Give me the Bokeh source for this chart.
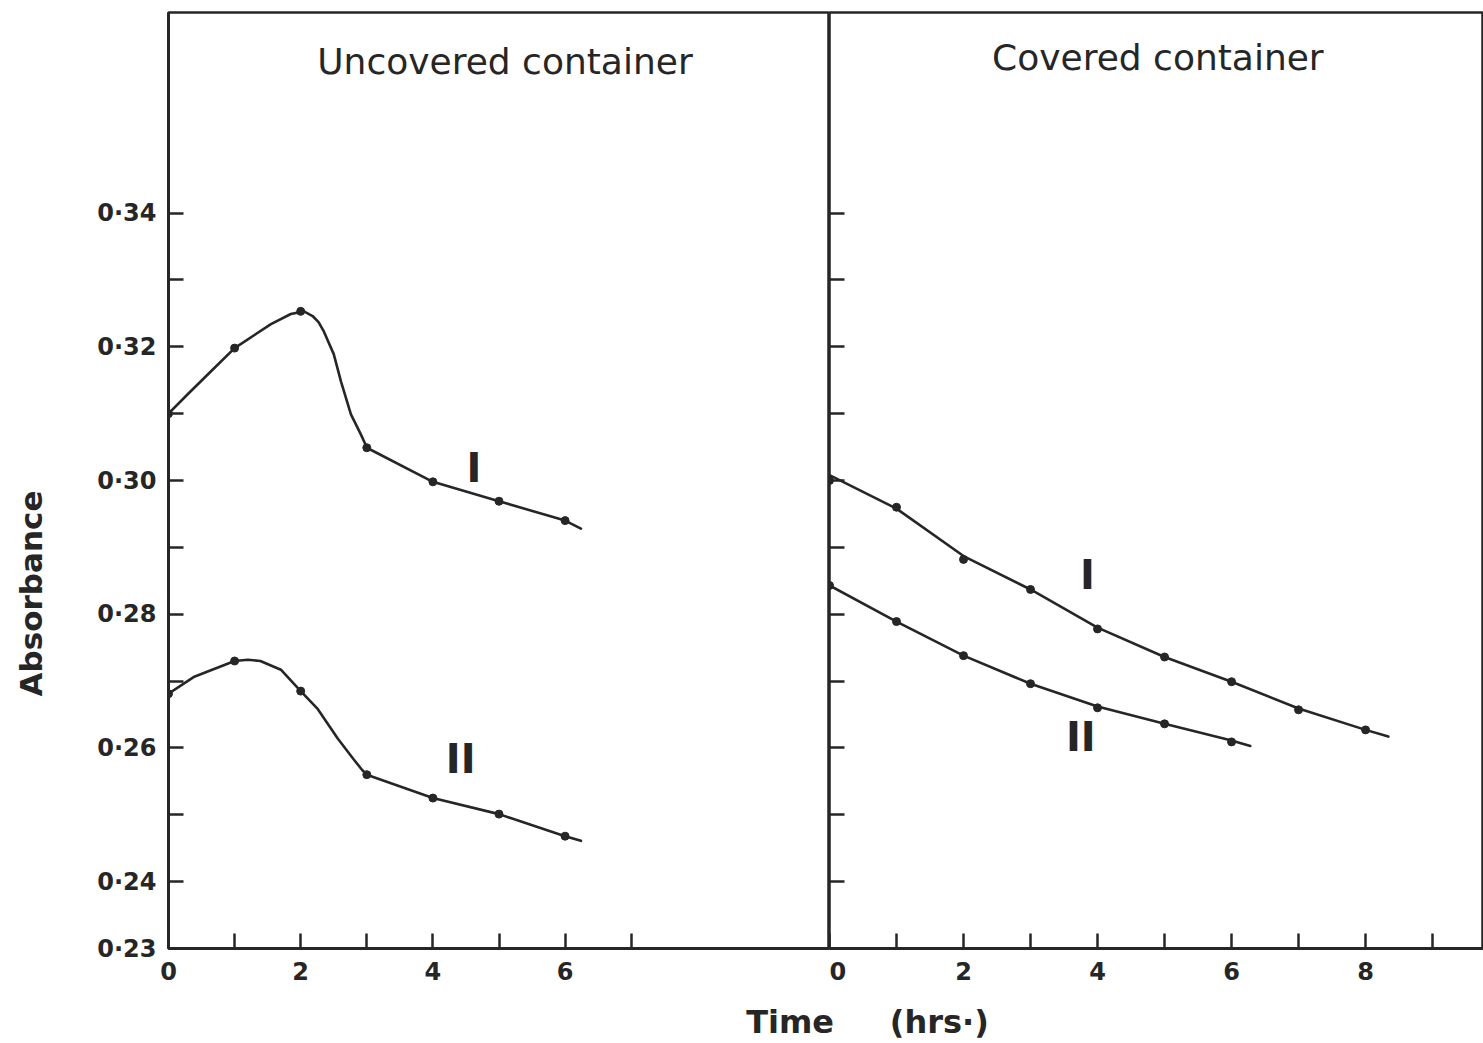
import math
from bokeh.plotting import figure
from bokeh.models import Range1d, FixedTicker, Label
from bokeh.layouts import row, column
from bokeh.embed import file_html
from bokeh.resources import INLINE

# ---------------- data ----------------
hours_unc = [0, 1, 2, 3, 4, 5, 6]
unc_I = [0.3100, 0.3198, 0.3253, 0.3049, 0.2998, 0.2969, 0.2940]
unc_II = [0.2681, 0.2730, 0.2685, 0.2560, 0.2525, 0.2501, 0.2468]

hours_cov_I = [0, 1, 2, 3, 4, 5, 6, 7, 8]
cov_I = [0.3000, 0.2960, 0.2882, 0.2837, 0.2778, 0.2736, 0.2699, 0.2657, 0.2627]
hours_cov_II = [0, 1, 2, 3, 4, 5, 6]
cov_II = [0.2843, 0.2789, 0.2738, 0.2696, 0.2660, 0.2636, 0.2609]

# hand-drawn fitted curves
unc_I_curve_t = [0, 0.29, 0.64, 1, 1.55, 1.85, 2.05, 2.18, 2.27, 2.35, 2.5, 2.61, 2.76,
                 2.91, 2.97, 3, 4, 5, 6, 6.24]
unc_I_curve = [0.3100, 0.3129, 0.3163, 0.3198, 0.3234, 0.3249, 0.3253, 0.3246, 0.3237,
               0.3223, 0.3189, 0.3148, 0.3099, 0.3069, 0.3056, 0.3049, 0.2998, 0.2969,
               0.2940, 0.2928]
unc_II_curve_t = [0, 0.38, 1, 1.2, 1.39, 1.70, 2, 2.26, 2.56, 2.80, 2.93, 3, 4, 5, 6, 6.24]
unc_II_curve = [0.2681, 0.2706, 0.2730, 0.2732, 0.2730, 0.2717, 0.2685, 0.2658, 0.2614,
                0.2583, 0.2567, 0.2560, 0.2525, 0.2501, 0.2468, 0.2461]
cov_I_curve_t = [0, 1, 2, 3, 4, 5, 6, 7, 8, 8.34]
cov_I_curve = [0.3008, 0.2958, 0.2887, 0.2837, 0.2780, 0.2736, 0.2699, 0.2659, 0.2627, 0.2617]
cov_II_curve_t = [0, 1, 2, 3, 4, 5, 6, 6.28]
cov_II_curve = [0.2843, 0.2789, 0.2738, 0.2696, 0.2662, 0.2636, 0.2611, 0.2603]

# labelled ticks and unlabelled ticks
y_ticks = [0.23, 0.24, 0.26, 0.28, 0.30, 0.32, 0.34]
y_tick_labels = ["0·23", "0·24", "0·26", "0·28", "0·30", "0·32", "0·34"]
y_ticks_plain = [0.25, 0.27, 0.29, 0.31, 0.33]
y_ticks_covered = [0.24, 0.25, 0.26, 0.27, 0.28, 0.29, 0.30, 0.31, 0.32, 0.33, 0.34]
x_ticks_unc = [0, 2, 4, 6]
x_labels_unc = ["0", "2", "4", "6"]
x_ticks_unc_plain = [1, 3, 5, 7]
x_ticks_cov = [0, 2, 4, 6, 8]
x_labels_cov = ["0", "2", "4", "6", "8"]
x_ticks_cov_plain = [1, 3, 5, 7, 9]

INK = "#262626"
FONT = "DejaVu Sans"
MAIN_H = 995
TOP = 12
BOTTOM = MAIN_H - 948
STRIP_W = 60
TIME_H = 1043 - MAIN_H


def tick_style(a):
    a.axis_line_color = INK
    a.axis_line_width = 3
    for kind in ("major", "minor"):
        setattr(a, kind + "_tick_line_color", INK)
        setattr(a, kind + "_tick_line_width", 2.5)
        setattr(a, kind + "_tick_in", 15)
        setattr(a, kind + "_tick_out", 0)
    a.major_label_text_font = FONT
    a.major_label_text_font_style = "bold"
    a.major_label_text_font_size = "24px"
    a.major_label_text_color = INK


def base(p):
    p.background_fill_color = "white"
    p.border_fill_color = "white"
    p.outline_line_color = INK
    p.outline_line_width = 2.5
    p.xgrid.visible = False
    p.ygrid.visible = False


def blank(width, height, yr, top, bottom):
    p = figure(width=width, height=height, x_range=Range1d(0, 1), y_range=yr,
               x_axis_location=None, y_axis_location=None, output_backend="svg",
               toolbar_location=None, min_border_left=0, min_border_right=0,
               min_border_top=top, min_border_bottom=bottom)
    p.outline_line_color = None
    p.xgrid.visible = False
    p.ygrid.visible = False
    p.background_fill_color = "white"
    p.border_fill_color = "white"
    return p


# ---------------- left panel: uncovered container ----------------
left = figure(width=829 - STRIP_W, height=MAIN_H, x_range=Range1d(0, 10),
              y_range=Range1d(0.23, 0.37), output_backend="svg", toolbar_location=None,
              min_border_left=168 - STRIP_W, min_border_right=0, min_border_top=TOP,
              min_border_bottom=BOTTOM)
base(left)
ax = left.xaxis[0]
ax.ticker = FixedTicker(ticks=x_ticks_unc, minor_ticks=x_ticks_unc_plain)
ax.major_label_overrides = dict(zip(x_ticks_unc, x_labels_unc))
tick_style(ax)
ax.major_label_standoff = 13
ay = left.yaxis[0]
ay.ticker = FixedTicker(ticks=y_ticks, minor_ticks=y_ticks_plain)
ay.major_label_overrides = dict(zip(y_ticks, y_tick_labels))
tick_style(ay)
ay.major_label_standoff = 12

# ---------------- right panel: covered container ----------------
right = figure(width=654, height=MAIN_H, x_range=Range1d(0, 9.76),
               y_range=Range1d(0.23, 0.37), output_backend="svg", toolbar_location=None,
               min_border_left=0, min_border_right=0, min_border_top=TOP,
               min_border_bottom=BOTTOM)
base(right)
bx = right.xaxis[0]
bx.ticker = FixedTicker(ticks=x_ticks_cov, minor_ticks=x_ticks_cov_plain)
bx.major_label_overrides = dict(zip(x_ticks_cov, x_labels_cov))
tick_style(bx)
bx.major_label_standoff = 13
by = right.yaxis[0]
by.ticker = FixedTicker(ticks=[], minor_ticks=y_ticks_covered)
tick_style(by)
by.major_label_standoff = 0
by.axis_line_color = None

LW = 2.6
for p, t, y in [(left, unc_I_curve_t, unc_I_curve), (left, unc_II_curve_t, unc_II_curve),
                (right, cov_I_curve_t, cov_I_curve), (right, cov_II_curve_t, cov_II_curve)]:
    p.line(t, y, line_color=INK, line_width=LW, line_join="round", line_cap="round")
left.scatter(hours_unc, unc_I, size=8, color=INK)
left.scatter(hours_unc, unc_II, size=8, color=INK)
right.scatter(hours_cov_I, cov_I, size=8, color=INK)
right.scatter(hours_cov_II, cov_II, size=8, color=INK)


def lab(p, x, y, text, size, bold=False, align="center", angle=0.0):
    p.add_layout(Label(x=x, y=y, text=text, text_font=FONT, text_font_size=size,
                       text_font_style="bold" if bold else "normal", text_color=INK,
                       text_align=align, text_baseline="middle", angle=angle))


lab(left, 5.09, 0.3626, "Uncovered container", "36px")
lab(right, 4.90, 0.3633, "Covered container", "36px")
lab(left, 4.62, 0.3018, "I", "40px", bold=True)
lab(left, 4.42, 0.2583, "II", "40px", bold=True)
lab(right, 3.85, 0.2858, "I", "40px", bold=True)
lab(right, 3.75, 0.2617, "II", "40px", bold=True)

ylab = blank(STRIP_W, MAIN_H, Range1d(0.23, 0.37), TOP, BOTTOM)
lab(ylab, 0.5, 0.2831, "Absorbance", "31px", bold=True, angle=math.pi / 2)

xlab = blank(1483, TIME_H, Range1d(0, 1), 0, 0)
lab(xlab, 867 / 1483, 0.44, "Time\u00a0\u00a0\u00a0\u00a0\u00a0(hrs·)", "32px", bold=True)

layout = column(row(ylab, left, right, spacing=0), xlab, spacing=0)
open("out.html", "w").write(file_html(layout, INLINE))
